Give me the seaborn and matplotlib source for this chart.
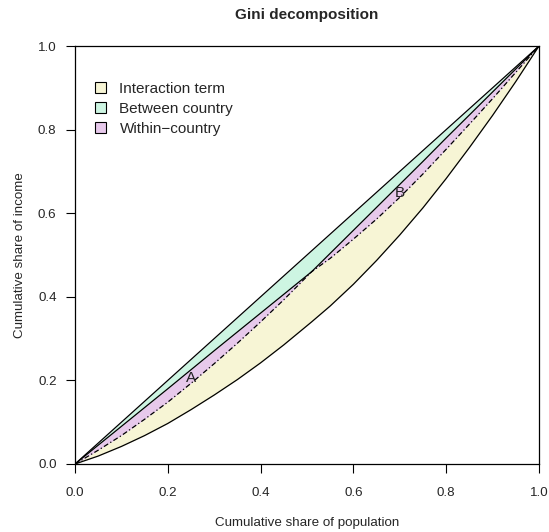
import matplotlib
matplotlib.use("Agg")
import matplotlib.pyplot as plt
from matplotlib.patches import Patch
import seaborn as sns
import pandas as pd

# ---- data ----
pop = [0.0, 0.05, 0.1, 0.15, 0.2, 0.25, 0.3, 0.35, 0.4, 0.45, 0.51,
       0.55, 0.6, 0.65, 0.7, 0.75, 0.8, 0.85, 0.9, 0.95, 1.0]
equality = [0.0, 0.05, 0.1, 0.15, 0.2, 0.25, 0.3, 0.35, 0.4, 0.45, 0.51,
            0.55, 0.6, 0.65, 0.7, 0.75, 0.8, 0.85, 0.9, 0.95, 1.0]
between = [0.0, 0.045, 0.09, 0.135, 0.18, 0.2255, 0.271, 0.316, 0.361, 0.406, 0.46,
           0.504, 0.559, 0.614, 0.669, 0.724, 0.78, 0.835, 0.89, 0.945, 1.0]
within = [0.0, 0.033, 0.068, 0.107, 0.148, 0.193, 0.240, 0.289, 0.340, 0.393, 0.46,
          0.492, 0.538, 0.586, 0.638, 0.694, 0.753, 0.813, 0.874, 0.937, 1.0]
lorenz = [0.0, 0.019, 0.042, 0.068, 0.097, 0.13, 0.165, 0.202, 0.242, 0.285, 0.34,
          0.378, 0.43, 0.487, 0.548, 0.613, 0.683, 0.757, 0.834, 0.915, 1.0]

legend_labels = ["Interaction term", "Between country", "Within\u2212country"]
fill_colors = ["#f7f5d5", "#cdf5e2", "#e7c9eb"]
ticks = [0.0, 0.2, 0.4, 0.6, 0.8, 1.0]
tick_labels = ["0.0", "0.2", "0.4", "0.6", "0.8", "1.0"]
marks = ["A", "B"]
mark_x = [0.251, 0.70]
mark_y = [0.206, 0.648]

df = pd.DataFrame({"pop": pop, "equality": equality, "between": between,
                   "within": within, "lorenz": lorenz})

sns.set_theme(style="white")
plt.rcParams["font.family"] = ["Liberation Sans", "DejaVu Sans"]

W, H = 549, 532
fig = plt.figure(figsize=(W / 100, H / 100), dpi=100)
ax = fig.add_axes([75 / W, (H - 464) / H, 464 / W, 418 / H])

# fills
ax.fill_between(df["pop"], df["equality"], df["between"], color=fill_colors[1], lw=0)
ax.fill_between(df["pop"], df["between"], df["within"], color=fill_colors[2], lw=0)
ax.fill_between(df["pop"], df["within"], df["lorenz"], color=fill_colors[0], lw=0)

# lines
sns.lineplot(data=df, x="pop", y="equality", color="black", lw=0.9, ax=ax, sort=False)
sns.lineplot(data=df, x="pop", y="between", color="black", lw=0.9, ax=ax, sort=False)
sns.lineplot(data=df, x="pop", y="within", color="black", lw=0.9, ax=ax, sort=False,
             linestyle=(0, (4, 2, 1, 2)))
sns.lineplot(data=df, x="pop", y="lorenz", color="black", lw=0.9, ax=ax, sort=False)

for t, xx, yy in zip(marks, mark_x, mark_y):
    ax.text(xx, yy, t, ha="center", va="center", fontsize=11, color="#222222")

ax.set_xlim(0, 1)
ax.set_ylim(0, 1)
ax.set_xticks(ticks)
ax.set_xticklabels(tick_labels)
ax.set_yticks(ticks)
ax.set_yticklabels(tick_labels)
ax.tick_params(axis="both", direction="out", length=6.3, width=0.8, color="black",
               labelsize=9.6, bottom=True, left=True)
ax.tick_params(axis="x", pad=10)
ax.tick_params(axis="y", pad=7)
for s in ax.spines.values():
    s.set_color("black")
    s.set_linewidth(0.9)

ax.set_xlabel("Cumulative share of population", fontsize=9.6, va="center")
ax.xaxis.set_label_coords(0.5, -(523 - 464) / 418)
ax.set_ylabel("Cumulative share of income", fontsize=9.6, va="center")
ax.yaxis.set_label_coords(-(75 - 20) / 464, 0.5)
fig.text(307 / W, 1 - 14.7 / H, "Gini decomposition", fontsize=11, fontweight="bold",
         ha="center", va="center")

handles = [Patch(facecolor=c, edgecolor="black", linewidth=0.8) for c in fill_colors]
ax.legend(handles, legend_labels, loc="upper left", bbox_to_anchor=(0.029, 0.929),
          frameon=False, fontsize=11, handlelength=0.78, handleheight=0.72,
          handletextpad=0.85, labelspacing=0.4, borderaxespad=0)

fig.savefig("out.png", dpi=100)
